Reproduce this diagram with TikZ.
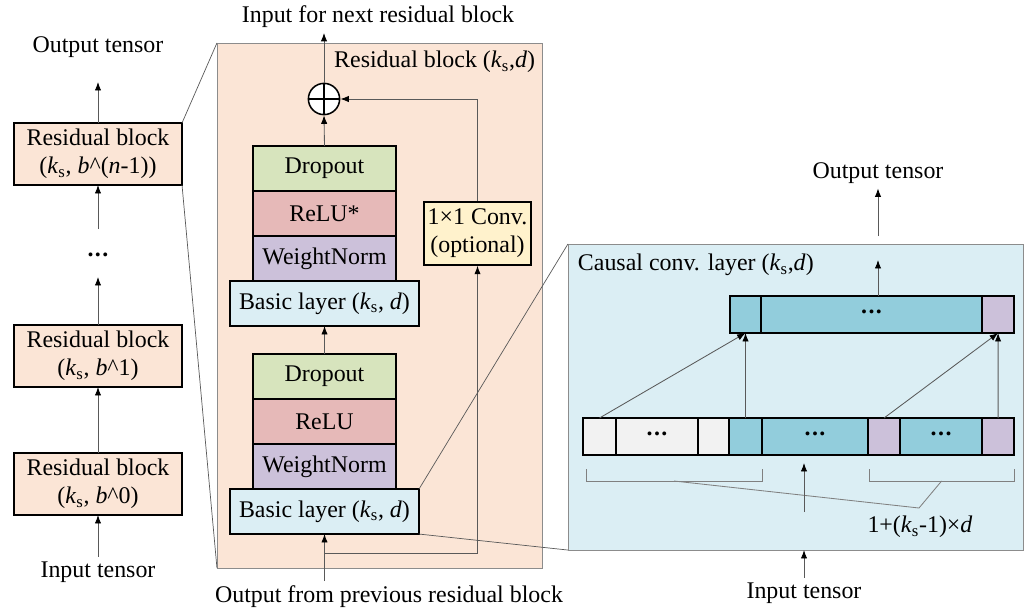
\documentclass[tikz,border=0pt]{standalone}
\usepackage{amsmath}
\usepackage{fontspec}
\setmainfont{Liberation Serif}
\usetikzlibrary{arrows.meta,positioning}

\definecolor{peach}{HTML}{FBE5D6}
\definecolor{dropgreen}{HTML}{D7E4BD}
\definecolor{relured}{HTML}{E6B9B8}
\definecolor{wnpurple}{HTML}{CCC1DA}
\definecolor{basicblue}{HTML}{DBEEF4}
\definecolor{convyellow}{HTML}{FFF2CC}
\definecolor{cellteal}{HTML}{92CDDC}
\definecolor{padgray}{HTML}{F2F2F2}
\definecolor{linegray}{HTML}{595959}

\newcommand{\ksub}{\textit{k}\textsubscript{s}}
\newcommand{\celldots}{\raisebox{0.22em}{\textbf{.\kern0.06em.\kern0.06em.}}}

\begin{document}
\begin{tikzpicture}[x=0.025cm,y=-0.025cm,
  every node/.style={font=\fontsize{17}{20}\selectfont},
  arr/.style={draw=linegray,line width=0.6pt,-{Latex[length=6pt,width=4.5pt,color=black]}},
  thinline/.style={draw=linegray,line width=0.5pt},
  brk/.style={draw=black!50,line width=0.6pt},
  panel/.style={draw=black!45,line width=0.6pt,inner sep=0pt,outer sep=0pt},
  resblock/.style={draw,line width=1.1pt,fill=peach,minimum width=4.2cm,minimum height=1.55cm,align=center,inner sep=0pt,outer sep=0pt},
  layer/.style={draw,line width=1.1pt,minimum width=3.575cm,minimum height=1.125cm,inner sep=0pt,outer sep=0pt},
  basic/.style={layer,fill=basicblue,minimum width=4.725cm},
  cell/.style={draw,line width=1.1pt,minimum height=0.925cm,inner sep=0pt,outer sep=0pt}]
\useasboundingbox (0,0) rectangle (1030,612);

% stack of residual blocks
\node (outL) at (98,47) {Output tensor};
\coordinate (outLtip) at (98,82);
\node[resblock] (rbn) at (98,154) {Residual block\\(\ksub, \textit{b}\textasciicircum(\textit{n}-1))};
\coordinate (dotstop) at (98,229);
\node (vdots) at (98,257) {\celldots};
\coordinate (dotsbot) at (98,277);
\node[resblock] (rb1) at (98,356) {Residual block\\(\ksub, \textit{b}\textasciicircum1)};
\node[resblock] (rb0) at (98,484) {Residual block\\(\ksub, \textit{b}\textasciicircum0)};
\node (inL) at (98,572) {Input tensor};
\draw[arr] (rbn.north) -- (outLtip);
\draw[arr] (dotstop) -- (rbn.south);
\draw[arr] (rb1.north) -- (dotsbot);
\draw[arr] (rb0.north) -- (rb1.south);
\draw[arr] (inL) -- (rb0.south);

% one residual block
\node[panel,fill=peach,minimum width=8.125cm,minimum height=13.125cm] (resbig) at (379.5,305.5) {};
\node[anchor=east] (rbtitle) at (540,62) {Residual block (\ksub,\textit{d})};
\node (nextin) at (378,17) {Input for next residual block};
\node[draw,circle,line width=1.1pt,fill=white,minimum size=0.78cm,inner sep=0pt] (sum) at (324,99) {};
\draw[line width=1.1pt] (sum.north) -- (sum.south) (sum.west) -- (sum.east);

\node[layer,fill=dropgreen] (drop2) at (324.5,168.5) {Dropout};
\node[layer,fill=relured,below=0pt of drop2] (relu2) {ReLU*};
\node[layer,fill=wnpurple,below=0pt of relu2] (wn2) {WeightNorm};
\node[basic,below=0pt of wn2] (basic2) {Basic layer (\ksub, \textit{d})};

\node[layer,fill=dropgreen] (drop1) at (324.5,376.5) {Dropout};
\node[layer,fill=relured,below=0pt of drop1] (relu1) {ReLU};
\node[layer,fill=wnpurple,below=0pt of relu1] (wn1) {WeightNorm};
\node[basic,below=0pt of wn1] (basic1) {Basic layer (\ksub, \textit{d})};

\node[draw,line width=1.1pt,fill=convyellow,minimum width=2.675cm,minimum height=1.575cm,align=center,inner sep=1pt] (conv1) at (477.5,233.5) {1\texttimes1 Conv.\\(optional)};

\node (prevout) at (389,597) {Output from previous residual block};
\coordinate (split) at (324.5,553);
\draw[arr] (prevout.north -| basic1.south) -- (basic1.south);
\draw[arr] (split) -| (conv1.south);
\draw[arr] (conv1.north) |- (sum.east);
\draw[arr] (drop2.north) -- (sum.south);
\draw[arr] (drop1.north) -- (basic2.south);
\draw[arr] (sum.north) -- (sum.north |- nextin.south);

% causal convolution
\node[panel,fill=basicblue,minimum width=11.375cm,minimum height=7.65cm] (causal) at (795.5,397) {};
\node[anchor=west] (cctitle) at (573,265) {Causal conv. layer (\ksub,\textit{d})};

\node[cell,fill=cellteal,minimum width=0.775cm] (t1) at (745.5,314.5) {};
\node[cell,fill=cellteal,minimum width=5.525cm,right=0pt of t1] (t2) {\celldots};
\node[cell,fill=wnpurple,minimum width=0.8cm,right=0pt of t2] (t3) {};

\node[cell,fill=padgray,minimum width=0.825cm] (c1) at (599.5,436.5) {};
\node[cell,fill=padgray,minimum width=2.05cm,right=0pt of c1] (c2) {\celldots};
\node[cell,fill=padgray,minimum width=0.775cm,right=0pt of c2] (c3) {};
\node[cell,fill=cellteal,minimum width=0.825cm,right=0pt of c3] (c4) {};
\node[cell,fill=cellteal,minimum width=2.65cm,right=0pt of c4] (c5) {\celldots};
\node[cell,fill=wnpurple,minimum width=0.8cm,right=0pt of c5] (c6) {};
\node[cell,fill=cellteal,minimum width=2.05cm,right=0pt of c6] (c7) {\celldots};
\node[cell,fill=wnpurple,minimum width=0.8cm,right=0pt of c7] (c8) {};

\draw[arr] (c1.north) -- (t1.south);
\draw[arr] (c4.north) -- (t1.south);
\draw[arr] (c6.north) -- (t3.south);
\draw[arr] (c8.north) -- (t3.south);

\coordinate (ccout) at (878,260);
\draw[arr] (t2.north -| ccout) -- (ccout);
\node (outR) at (878,173) {Output tensor};
\coordinate (outRtail) at (878,236);
\draw[arr] (outRtail) -- (outR);

\draw[brk] ([shift={(3,14)}]c1.south west) |- coordinate[pos=0.75] (brkL) ([shift={(0,26)}]c4.south east) -- ([shift={(0,14)}]c4.south east);
\draw[brk] ([shift={(1,14)}]c6.south west) |- coordinate[pos=0.75] (brkR) ([shift={(0,26)}]c8.south east) -- ([shift={(0,14)}]c8.south east);
\coordinate (brkjoin) at (919,508);
\draw[brk] (brkL) -- (brkjoin) -- (brkR);
\node (rf) at (920,527) {1+(\ksub-1)\texttimes\textit{d}};

\coordinate (ccintail) at (804,512);
\coordinate (ccinhead) at (804,463);
\draw[arr] (ccintail) -- (ccinhead);
\node (inR) at (804,593) {Input tensor};
\draw[arr] (inR) -- (inR |- causal.south);

% zoom lines
\draw[thinline] (rbn.north east) -- (resbig.north west);
\draw[thinline] (rbn.south east) -- (resbig.south west);
\draw[thinline] (basic1.north east) -- (causal.north west);
\draw[thinline] (basic1.south east) -- (causal.south west);
\end{tikzpicture}
\end{document}
